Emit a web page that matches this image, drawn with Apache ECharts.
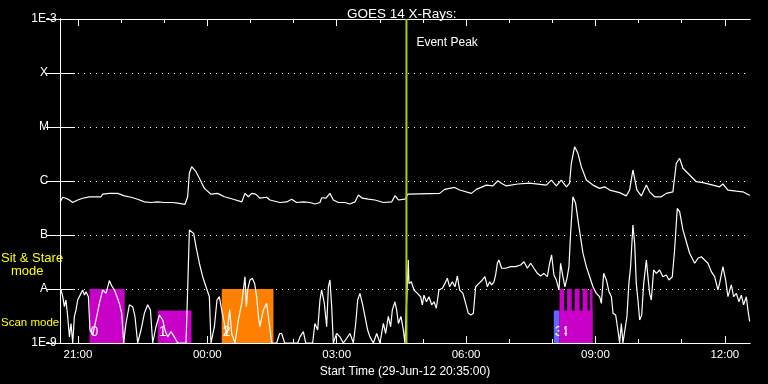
<!DOCTYPE html>
<html><head><meta charset="utf-8">
<script src="https://cdn.jsdelivr.net/npm/echarts@6/dist/echarts.min.js"></script>
<style>html,body{margin:0;padding:0;background:#000}#c{width:768px;height:384px}</style>
</head><body><div id="c"></div>
<script>
// minutes since start time 29-Jun-12 20:35:00
const startLabel = 'Start Time (29-Jun-12 20:35:00)';
const startMinuteOfDay = 20 * 60 + 35;
const spanMinutes = 960;
const majorTickMinutes = [25, 205, 385, 565, 745, 925];
const majorTickLabels = ['21:00', '00:00', '03:00', '06:00', '09:00', '12:00'];
const minorTickMinutes = [25, 85, 145, 205, 265, 325, 385, 445, 505, 565, 625, 685, 745, 805, 865, 925];
const yTickLabels = ['1E-9', 'A', 'B', 'C', 'M', 'X', '1E-3'];

// GOES 14 long channel (1-8 A), W/m^2
const longChannel = [[0,4.1e-7],[3.8,5.0e-7],[8.3,4.8e-7],[13.1,4.45e-7],[17.7,4.0e-7],[24.6,4.45e-7],[31.6,4.8e-7],[40.9,5.1e-7],[57,5.1e-7],[59.4,5.7e-7],[68.7,5.9e-7],[80.3,5.9e-7],[89.6,5.3e-7],[98.8,5.0e-7],[108.1,4.6e-7],[117.4,4.1e-7],[126.6,4.0e-7],[135.9,4.1e-7],[145.2,4.0e-7],[156.8,4.0e-7],[163.7,3.9e-7],[173.9,3.7e-7],[177.6,5.1e-7],[180,1.39e-6],[183.2,1.84e-6],[189.2,1.49e-6],[193.9,1.12e-6],[200.9,7.3e-7],[210.1,5.7e-7],[219.4,5.9e-7],[228.7,5.1e-7],[241.2,4.6e-7],[252.8,4.1e-7],[257.4,5.9e-7],[262.1,5.1e-7],[266.7,5.9e-7],[272.2,5.7e-7],[278.2,4.8e-7],[287.5,5.0e-7],[292.1,4.45e-7],[306,4.0e-7],[315.4,4.1e-7],[322.3,4.6e-7],[329.3,4.0e-7],[338.6,4.1e-7],[347.8,4.0e-7],[354.7,3.75e-7],[361.7,4.0e-7],[364,4.9e-7],[370,4.8e-7],[375.6,5.9e-7],[380.3,4.45e-7],[387.3,4.0e-7],[396.5,4.0e-7],[403.4,3.75e-7],[410.4,4.1e-7],[415.1,5.5e-7],[420.7,4.8e-7],[429,4.6e-7],[438.2,4.45e-7],[449.9,4.0e-7],[461.4,4.1e-7],[466,5.35e-7],[470.8,4.45e-7],[479.9,4.6e-7],[482.5,4.6e-7],[484.1,5.7e-7],[528.2,5.9e-7],[535.2,7.0e-7],[549.1,7.6e-7],[556.1,6.8e-7],[572.3,5.9e-7],[579.3,7.0e-7],[593.2,8.4e-7],[602.3,8.1e-7],[609.3,1.01e-6],[614,9.1e-7],[621,8.1e-7],[637.1,8.8e-7],[653.4,9.1e-7],[676.6,8.4e-7],[683.6,1.04e-6],[690.5,8.1e-7],[697.5,1.04e-6],[704.5,7.8e-7],[709,9.1e-7],[711.4,2.13e-6],[716,4.31e-6],[720.6,3.26e-6],[725.3,1.84e-6],[732.3,1.04e-6],[741.5,8.4e-7],[750.8,7.3e-7],[757.8,7.8e-7],[764.7,6.8e-7],[778.6,6.1e-7],[787.9,5.3e-7],[792.5,6.8e-7],[797.1,1.6e-6],[799.5,1.49e-6],[802.7,6.8e-7],[808.8,5.3e-7],[815.8,8.4e-7],[820.3,6.3e-7],[827.3,5.1e-7],[836.6,5.1e-7],[843.6,5.9e-7],[852.7,6.3e-7],[857.5,2.13e-6],[862.1,2.63e-6],[866.7,1.72e-6],[876,1.29e-6],[885.3,9.7e-7],[894.5,9.3e-7],[908.4,8.4e-7],[917.7,7.8e-7],[922.3,8.8e-7],[929.3,6.8e-7],[941,6.5e-7],[950.1,6.3e-7],[958.5,5.5e-7],[960,5.5e-7]];

// GOES 14 short channel (0.5-4 A), W/m^2 (floored at 1E-9)
const shortChannel = [[1.4,9.6e-9],[3.8,7.2e-9],[6.1,4.7e-9],[8.3,6.25e-9],[10.7,3.1e-9],[13.1,1.3e-9],[15.3,2.3e-9],[17.7,1e-9],[20,3.1e-9],[22.3,4.1e-9],[24.6,6.25e-9],[29.2,8.3e-9],[31.6,9.6e-9],[33.9,7.7e-9],[36.2,8.9e-9],[39.5,7.2e-9],[41.7,1.74e-9],[45.5,1.41e-9],[50.1,2.67e-9],[54.8,5.4e-9],[59.4,9.6e-9],[64,8.3e-9],[68.7,1.43e-8],[71.9,1.14e-8],[75.7,9.6e-9],[79.3,7.2e-9],[82.6,5.4e-9],[85.8,3.55e-9],[88.6,1e-9],[91.8,2.3e-9],[96.5,5.1e-9],[101.1,4.7e-9],[104.3,3.1e-9],[108.1,1e-9],[112.7,1.74e-9],[117.4,3.55e-9],[122,5.1e-9],[125.8,4.1e-9],[129,1e-9],[133.5,2.0e-9],[138.3,3.3e-9],[142.9,2.67e-9],[146.1,1.74e-9],[149.8,1.3e-9],[154.4,1.62e-9],[159.1,1.3e-9],[163.7,1e-9],[170.7,1e-9],[175.3,1e-9],[177.6,9.6e-9],[180,1.24e-7],[182.2,1.28e-7],[186,1.07e-7],[189.2,6.1e-8],[193.9,3.0e-8],[198.5,1.69e-8],[203.1,1.1e-8],[207.8,7.2e-9],[210.1,1e-9],[214.8,2.0e-9],[218.4,6.25e-9],[221.7,7.2e-9],[224.9,4.1e-9],[228.7,2.3e-9],[232,1.41e-9],[236.1,4.1e-9],[238.9,1.5e-9],[243.4,1e-9],[248.2,2.67e-9],[252.8,5.4e-9],[257.4,1.69e-8],[259.3,4.7e-9],[261.1,9.6e-9],[264.3,1.47e-8],[267.6,1.58e-8],[270.8,1.27e-8],[273.6,7.2e-9],[276,3.1e-9],[278.2,2.0e-9],[282.9,4.1e-9],[287.5,5.4e-9],[289.9,3.1e-9],[294.5,1e-9],[301.4,1e-9],[305.6,1.5e-9],[308.4,1.5e-9],[312.6,1e-9],[330.7,1e-9],[333.9,1.3e-9],[338.6,1.62e-9],[341.8,1e-9],[351.5,1e-9],[354.7,2.3e-9],[358.5,1.74e-9],[361.7,6.25e-9],[364,9.6e-9],[367.8,5.4e-9],[371,2.0e-9],[373.4,1.1e-8],[375.6,1.47e-8],[378,4.7e-9],[380.3,1e-9],[384.9,1.5e-9],[389.5,1.3e-9],[394.2,1e-9],[398.8,1.22e-9],[403.4,1.5e-9],[408.2,1e-9],[411.4,2.3e-9],[414.2,6.25e-9],[417.3,8.3e-9],[420.7,5.4e-9],[424.3,3.1e-9],[428,1.74e-9],[431.2,1.3e-9],[436,1e-9],[440.6,1.5e-9],[445.2,1e-9],[449.9,2.3e-9],[453.1,1.5e-9],[456.8,3.1e-9],[460,2.0e-9],[462.4,4.1e-9],[466,5.8e-9],[468.4,4.1e-9],[470.8,2.3e-9],[474.4,3.1e-9],[477.7,1.74e-9],[479.9,1e-9],[482.3,1e-9],[484.6,3.44e-8],[485.5,1.27e-8],[488.8,1.36e-8],[492.5,9.6e-9],[497.2,8.3e-9],[501.8,7.2e-9],[504.1,5.1e-9],[506.4,7.7e-9],[509.7,5.8e-9],[513.3,7.2e-9],[517.1,5.1e-9],[520.3,5.8e-9],[523.6,4.4e-9],[527.2,9.6e-9],[532,1.03e-8],[535.6,1.27e-8],[538.9,1.58e-8],[542.1,1.1e-8],[545.9,1.36e-8],[549.5,1.1e-8],[552.8,1.74e-8],[556,9.6e-9],[560.6,8.3e-9],[564.4,5.4e-9],[568.1,3.55e-9],[571.7,3.3e-9],[575.1,3.55e-9],[578.3,1.1e-8],[582.9,1.27e-8],[587.6,1.47e-8],[591.2,1.69e-8],[594.6,1.1e-8],[597.8,1.36e-8],[600.5,1.19e-8],[603.7,1.36e-8],[606.1,1.82e-8],[608.5,3.0e-8],[610.7,3.44e-8],[614.5,2.42e-8],[620,2.42e-8],[627,2.6e-8],[634,2.6e-8],[640.9,2.78e-8],[645.5,3.2e-8],[650.3,2.42e-8],[654.8,3.0e-8],[659.4,2.42e-8],[664.1,1.95e-8],[668.7,1.74e-8],[673.3,1.95e-8],[678.1,1.69e-8],[681.2,3.0e-8],[684,4.26e-8],[687.2,1.82e-8],[690.5,1.47e-8],[694.2,9.6e-9],[696.5,3.0e-8],[699.7,1.69e-8],[702.5,1.1e-8],[705.8,1.69e-8],[708.1,2.6e-8],[710.4,1.07e-7],[713.6,5.1e-7],[717.4,3.86e-7],[722,1.43e-7],[727.6,4.6e-8],[732.3,2.6e-8],[736.9,1.69e-8],[741.5,1.1e-8],[746.2,8.3e-9],[750.8,7.2e-9],[753.2,5.4e-9],[756.4,1.95e-8],[760.2,1.47e-8],[763.8,8.9e-9],[767.2,7.2e-9],[769.4,3.55e-9],[773.1,3.3e-9],[776.2,1.74e-9],[778.6,1e-9],[781,2.3e-9],[783.2,1e-9],[785.5,1e-9],[788.8,3.1e-9],[791.5,1.27e-8],[793.9,2.6e-8],[797.1,1.53e-7],[799.5,7.0e-8],[801.8,1.27e-8],[804.1,6.25e-9],[806.5,2.67e-9],[809.3,3.3e-9],[812.1,1.27e-8],[815.8,3.44e-8],[818,1.69e-8],[820.3,8.3e-9],[822.7,6.25e-9],[825.9,2.25e-8],[829.7,1.95e-8],[834.3,2.25e-8],[838.8,1.69e-8],[843.6,1.82e-8],[847.2,1.47e-8],[851.9,1.69e-8],[855.1,5.27e-8],[858.8,3.1e-7],[862.1,2.7e-7],[866.7,1.24e-7],[871.4,7.5e-8],[876,4.6e-8],[883,3.0e-8],[887.6,3.7e-8],[892.3,3.96e-8],[896.9,3.44e-8],[901.5,3.0e-8],[906.2,2.1e-8],[910.8,1.69e-8],[915.4,9.6e-9],[917.7,1.27e-8],[922.3,2.6e-8],[926.1,1.47e-8],[929.3,7.2e-9],[934,1.19e-8],[937.2,7.2e-9],[941,8.3e-9],[944.6,5.8e-9],[947.9,7.7e-9],[951.1,5.1e-9],[954.9,7.2e-9],[957.1,4.1e-9],[959.5,2.5e-9]];

// observation mode bars: [start min, end min, top level, colour index, label]
const sitStareLevel = 1e-8;
const scanLevel = 4e-9;
const barColors = ['#c800c8', '#ff8000', '#6464ff'];
const obsBars = [
  [41, 90, sitStareLevel, 0, '0'],
  [136, 183, scanLevel, 0, '1'],
  [225, 297, sitStareLevel, 1, '2'],
  [687, 695, scanLevel, 2, '3'],
  [695, 741, scanLevel, 0, '4'],
  [695, 701.5, sitStareLevel, 0, ''],
  [705.5, 712, sitStareLevel, 0, ''],
  [716, 723, sitStareLevel, 0, ''],
  [727, 734, sitStareLevel, 0, ''],
  [737, 741, sitStareLevel, 0, '']
];
const eventPeakMinute = [482];

const FONT = '"Liberation Sans", Arial, sans-serif';
function clock(m) {
  const t = Math.round(startMinuteOfDay + m);
  const h = Math.floor(t / 60) % 24, mm = t % 60;
  return String(h).padStart(2, '0') + ':' + String(mm).padStart(2, '0');
}
const chart = echarts.init(document.getElementById('c'), null, {renderer: 'canvas'});
const white = '#ffffff';
function xAx(pos, ticks, len, labels) {
  return {
    type: 'value', position: pos, min: 0, max: spanMinutes,
    axisLine: {show: true, lineStyle: {color: white, width: 1}},
    axisTick: {show: true, inside: true, length: len, customValues: ticks, lineStyle: {color: white, width: 1}},
    axisLabel: labels ? {show: true, customValues: majorTickMinutes, color: white, fontFamily: FONT, fontSize: 11.5, margin: 6,
      formatter: v => { const i = majorTickMinutes.indexOf(Math.round(v)); return i >= 0 ? majorTickLabels[i] : clock(v); }} : {show: false},
    splitLine: {show: false},
    name: labels ? startLabel : '', nameLocation: 'middle', nameGap: 18,
    nameTextStyle: {color: white, fontFamily: FONT, fontSize: 12}
  };
}
chart.setOption({
  backgroundColor: '#000000',
  animation: false,
  title: {text: 'GOES 14 X-Rays:', left: 342, top: 2, textStyle: {color: white, fontFamily: FONT, fontSize: 13.5, fontWeight: 'normal'}},
  grid: {left: 60, right: 18, top: 19, bottom: 41},
  xAxis: [
    xAx('bottom', majorTickMinutes, 7, true),
    xAx('bottom', minorTickMinutes, 4, false),
    xAx('top', majorTickMinutes, 7, false),
    xAx('top', minorTickMinutes, 4, false)
  ],
  yAxis: [
    {type: 'log', logBase: 10, min: 1e-9, max: 1e-3, splitNumber: 6, position: 'left',
      axisLine: {show: true, lineStyle: {color: white}},
      axisTick: {show: true, inside: true, length: 15, lineStyle: {color: white}},
      minorTick: {show: false},
      axisLabel: {color: white, fontFamily: FONT, fontSize: 12, align: 'center', margin: 16,
        formatter: v => yTickLabels[Math.round(Math.log10(v)) + 9] || ''},
      splitLine: {show: true, lineStyle: {color: white, width: 1, type: [1, 5]}}},
    {type: 'log', logBase: 10, min: 1e-9, max: 1e-3, splitNumber: 6, position: 'right',
      axisLine: {show: true, lineStyle: {color: white}},
      axisTick: {show: true, inside: true, length: 14, lineStyle: {color: white}},
      axisLabel: {show: false}, splitLine: {show: false}}
  ],
  graphic: [
    {type: 'text', left: 1, top: 252, style: {text: 'Sit & Stare', fill: '#ffff00', font: '13px ' + FONT}},
    {type: 'text', left: 11, top: 265, style: {text: 'mode', fill: '#ffff00', font: '13px ' + FONT}},
    {type: 'text', left: 1, top: 317, style: {text: 'Scan mode', fill: '#ffff00', font: '11.5px ' + FONT}}
  ],
  series: [
    {type: 'custom', xAxisIndex: 0, yAxisIndex: 0, data: obsBars, z: 2, clip: true,
      renderItem: (params, api) => {
        const b = obsBars[params.dataIndex];
        const p1 = api.coord([b[0], b[2]]);
        const p2 = api.coord([b[1], 1e-9]);
        const children = [{type: 'rect', shape: {x: p1[0], y: p1[1], width: p2[0] - p1[0], height: p2[1] - p1[1]},
          style: {fill: barColors[b[3]]}}];
        if (b[4]) children.push({type: 'text', x: p1[0] + 1, y: p2[1] - 4,
          style: {text: b[4], fill: white, font: '14px ' + FONT, textVerticalAlign: 'bottom'}});
        return {type: 'group', children};
      }},
    {type: 'line', data: shortChannel, showSymbol: false, symbol: 'none', z: 3,
      lineStyle: {color: white, width: 1.2}, clip: true},
    {type: 'line', data: longChannel, showSymbol: false, symbol: 'none', z: 3,
      lineStyle: {color: white, width: 1.2}, clip: true},
    {type: 'custom', data: eventPeakMinute, z: 4,
      renderItem: (params, api) => {
        const t = eventPeakMinute[params.dataIndex];
        const top = api.coord([t, 1e-3]);
        const bot = api.coord([t, 1e-9]);
        return {type: 'group', children: [
          {type: 'line', shape: {x1: top[0], y1: top[1], x2: bot[0], y2: bot[1]}, style: {stroke: '#a4d000', lineWidth: 2}},
          {type: 'text', x: top[0] + 10, y: top[1] + 24, style: {text: 'Event Peak', fill: white, font: '12px ' + FONT, textVerticalAlign: 'middle'}}
        ]};
      }}
  ]
});
</script></body></html>
